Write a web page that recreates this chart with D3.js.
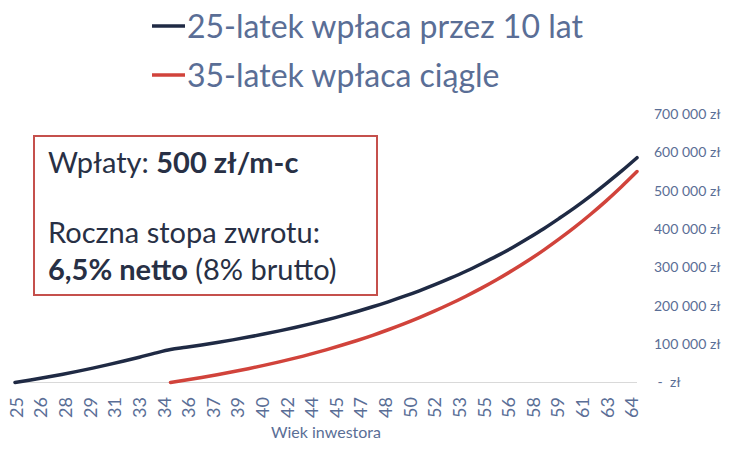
<!DOCTYPE html>
<html>
<head>
<meta charset="utf-8">
<script src="https://cdn.jsdelivr.net/npm/d3@7"></script>
<style>
    body { margin: 0; background: #fff; }
    svg { font-family: Lato, "Open Sans", sans-serif; }
</style>
</head>
<body>
<svg id="chart"></svg>
<script>
// Ages of the investor (years) and portfolio value in zł
let earlyAges = d3.range(25, 66);
let earlyValues = [0, 6500, 13500, 21000, 29000, 37500, 46500, 56000, 66000, 76500,
    86000, 91700, 97700, 104200, 111100, 118400, 126200, 134500, 143400, 152900,
    163000, 173700, 185200, 197400, 210400, 224300, 239100, 255000, 272000, 290000,
    309500, 330000, 352000, 376000, 401000, 428000, 456000, 486000, 518000, 551000, 586000];

let lateAges = d3.range(35, 66);
let lateValues = [0, 6300, 13000, 20200, 27800, 36000, 44600, 53800, 63600, 74000,
    85200, 97000, 109600, 123000, 137500, 152800, 169200, 186600, 205200, 225000,
    246000, 268500, 292500, 318000, 345200, 374300, 405000, 438000, 473000, 510500, 550000];

let seriesNames = ["25-latek wpłaca przez 10 lat", "35-latek wpłaca ciągle"];
let xTickLabels = ["25", "26", "28", "29", "31", "33", "34", "36", "37", "39", "40", "42", "44",
    "45", "47", "48", "50", "52", "53", "55", "56", "58", "59", "61", "63", "64"];
let yTicks = [0, 100000, 200000, 300000, 400000, 500000, 600000, 700000];

let width = 731, height = 456;
let navy = "#1f2a44", red = "#d1433b", labelColor = "#5a6e96";

let svg = d3.select("#chart").attr("width", width).attr("height", height);

// Scales
let x = d3.scaleLinear().domain([25, 65]).range([15, 637]);
let y = d3.scaleLinear().domain([0, 700000]).range([382.5, 114]);

// x tick labels sit every 19 months starting one month in
let xLabelPos = d3.scalePoint()
    .domain(xTickLabels)
    .range([x(25 + 1 / 12), x(25 + 476 / 12)]);

// baseline
svg.append("line")
    .attr("x1", x(25)).attr("x2", x(65))
    .attr("y1", y(0)).attr("y2", y(0))
    .attr("stroke", "#d9d9d9").attr("stroke-width", 1);

// y labels on the right
let fmt = d3.formatLocale({decimal: ",", thousands: " ", grouping: [3], currency: ["", " zł"]}).format(",.0f");
svg.append("g").selectAll("text")
    .data(yTicks)
    .enter().append("text")
    .attr("x", 654)
    .attr("y", d => y(d))
    .attr("dy", "0.35em")
    .style("white-space", "pre")
    .attr("font-size", 14)
    .attr("fill", labelColor)
    .text(d => d === 0 ? " -  zł" : fmt(d) + " zł");

// x labels rotated
svg.append("g").selectAll("text")
    .data(xTickLabels)
    .enter().append("text")
    .attr("transform", d => `translate(${xLabelPos(d) + 6.5},397) rotate(-90)`)
    .attr("text-anchor", "end")
    .attr("font-size", 18)
    .attr("fill", labelColor)
    .text(d => d);

svg.append("text")
    .attr("x", 326).attr("y", 438)
    .attr("text-anchor", "middle")
    .attr("font-size", 16)
    .attr("fill", labelColor)
    .text("Wiek inwestora");

// Lines
let line = d3.line()
    .x(d => x(d[0]))
    .y(d => y(d[1]))
    .curve(d3.curveMonotoneX);

svg.append("path")
    .datum(earlyAges.map((a, i) => [a, earlyValues[i]]))
    .attr("d", line)
    .attr("fill", "none")
    .attr("stroke", navy)
    .attr("stroke-width", 3.5)
    .attr("stroke-linecap", "round");

svg.append("path")
    .datum(lateAges.map((a, i) => [a, lateValues[i]]))
    .attr("d", line)
    .attr("fill", "none")
    .attr("stroke", red)
    .attr("stroke-width", 3.5)
    .attr("stroke-linecap", "round");

// Legend
let legend = svg.append("g");
[navy, red].forEach(function (c, i) {
    let ly = 26 + i * 49;
    legend.append("line")
        .attr("x1", 152).attr("x2", 185)
        .attr("y1", ly).attr("y2", ly)
        .attr("stroke", c).attr("stroke-width", 3.5);
    legend.append("text")
        .attr("x", 187).attr("y", ly + 11.5)
        .attr("font-size", 32)
        .attr("fill", labelColor)
        .text(seriesNames[i]);
});

// Info box
svg.append("rect")
    .attr("x", 34).attr("y", 136)
    .attr("width", 343).attr("height", 159)
    .attr("fill", "#fff")
    .attr("stroke", "#c5504c")
    .attr("stroke-width", 2);

let boxText = svg.append("g").attr("font-size", 29).attr("fill", "#283045");
let t1 = boxText.append("text").attr("x", 48).attr("y", 173);
t1.append("tspan").text("Wpłaty: ");
t1.append("tspan").attr("font-weight", "bold").text("500 zł/m-c");

boxText.append("text").attr("x", 48).attr("y", 243).text("Roczna stopa zwrotu:");

let t3 = boxText.append("text").attr("x", 48).attr("y", 280);
t3.append("tspan").attr("font-weight", "bold").text("6,5% netto");
t3.append("tspan").text(" (8% brutto)");
</script>
</body>
</html>
